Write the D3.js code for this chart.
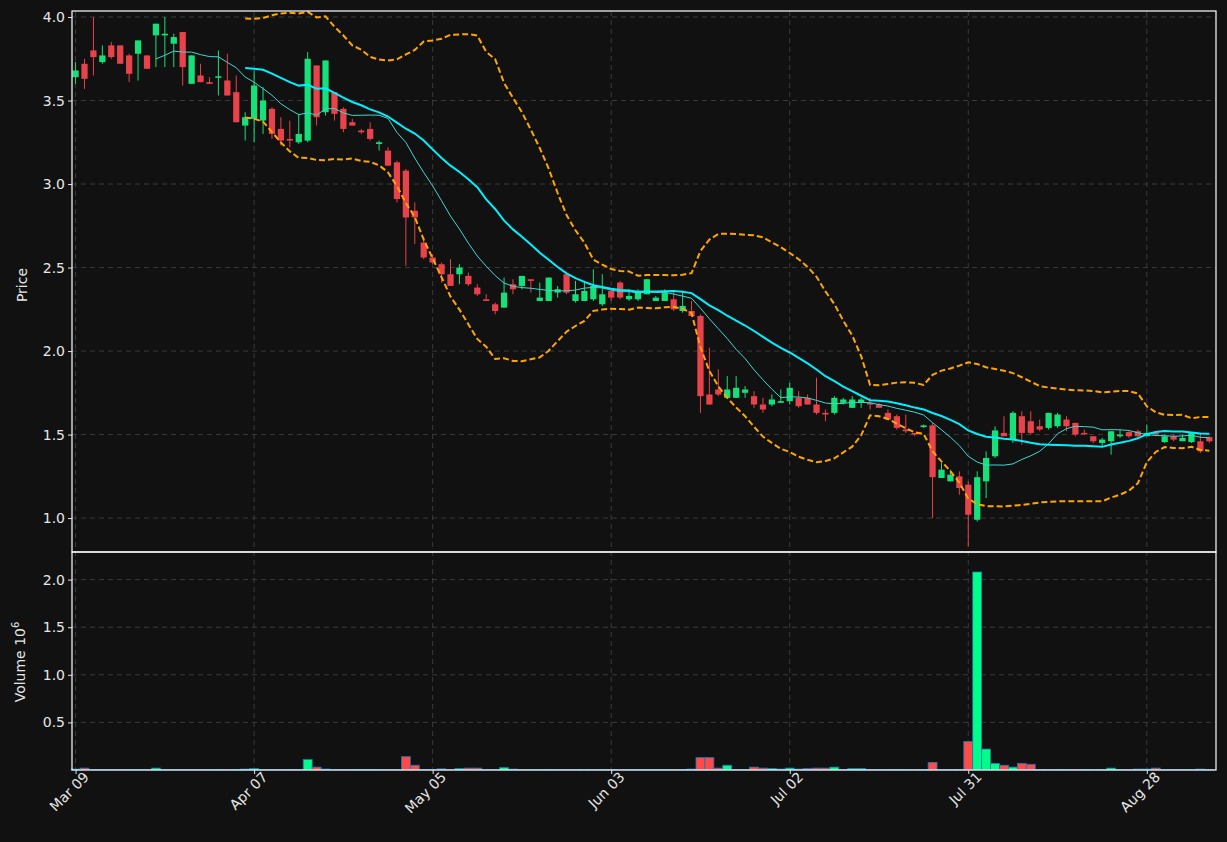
<!DOCTYPE html>
<html>
<head>
<meta charset="utf-8">
<script src="https://cdn.jsdelivr.net/npm/d3@7"></script>
<style>
  body { margin: 0; background: #111111; }
  text { font-family: "DejaVu Sans", sans-serif; }
</style>
</head>
<body>
<div id="chart"></div>
<script>
// bar index ticks, every 20 trading days
const tickIdx = [0, 20, 40, 60, 80, 100, 120];
const tickLabels = ["Mar 09", "Apr 07", "May 05", "Jun 03", "Jul 02", "Jul 31", "Aug 28"];

// OHLC per trading day
const opens = [3.64,3.72,3.80,3.73,3.83,3.83,3.77,3.78,3.77,3.89,3.89,3.84,3.91,3.60,3.65,3.61,3.64,3.62,3.55,3.35,
  3.39,3.38,3.45,3.33,3.27,3.25,3.26,3.71,3.43,3.55,3.45,3.37,3.32,3.33,3.24,3.20,3.13,3.08,2.84,2.65,
  2.56,2.52,2.46,2.46,2.45,2.38,2.31,2.28,2.26,2.40,2.39,2.43,2.30,2.30,2.35,2.46,2.30,2.30,2.31,2.28,
  2.36,2.41,2.31,2.31,2.34,2.30,2.30,2.31,2.24,2.24,2.21,1.74,1.77,1.72,1.72,1.75,1.73,1.68,1.68,1.69,
  1.70,1.72,1.72,1.68,1.63,1.63,1.69,1.66,1.69,1.69,1.68,1.63,1.61,1.53,1.51,1.545,1.555,1.24,1.22,1.25,
  1.20,0.99,1.22,1.37,1.51,1.47,1.61,1.58,1.55,1.54,1.55,1.59,1.57,1.51,1.49,1.45,1.46,1.49,1.515,1.52,
  1.49,1.51,1.455,1.49,1.46,1.455,1.46,1.485];
const highs = [3.73,3.75,4.00,3.83,3.85,3.83,3.78,3.86,3.77,3.96,4.00,3.90,3.91,3.77,3.72,3.64,3.80,3.78,3.65,3.43,
  3.68,3.58,3.46,3.40,3.38,3.42,3.79,3.71,3.74,3.55,3.46,3.39,3.33,3.37,3.26,3.22,3.14,3.09,2.89,2.68,
  2.58,2.53,2.55,2.52,2.47,2.40,2.34,2.29,2.44,2.43,2.45,2.43,2.41,2.44,2.39,2.46,2.42,2.42,2.49,2.46,
  2.37,2.42,2.37,2.37,2.43,2.33,2.37,2.36,2.35,2.30,2.22,2.02,1.89,1.85,1.85,1.79,1.76,1.72,1.74,1.77,
  1.81,1.76,1.74,1.84,1.65,1.73,1.72,1.73,1.72,1.72,1.69,1.65,1.62,1.62,1.51,1.56,1.57,1.33,1.29,1.28,
  1.22,1.28,1.40,1.55,1.61,1.64,1.64,1.64,1.59,1.63,1.63,1.61,1.57,1.53,1.49,1.48,1.52,1.53,1.52,1.53,
  1.56,1.52,1.50,1.50,1.50,1.51,1.51,1.49];
const lows = [3.60,3.57,3.65,3.72,3.75,3.72,3.61,3.62,3.69,3.70,3.70,3.70,3.59,3.60,3.61,3.60,3.53,3.53,3.37,3.26,
  3.25,3.30,3.27,3.23,3.22,3.24,3.25,3.35,3.41,3.38,3.31,3.35,3.30,3.26,3.20,3.11,2.89,2.51,2.64,2.55,
  2.52,2.41,2.39,2.40,2.39,2.33,2.30,2.22,2.26,2.34,2.37,2.35,2.30,2.30,2.32,2.34,2.29,2.30,2.30,2.27,
  2.30,2.31,2.30,2.30,2.34,2.30,2.30,2.24,2.23,2.21,1.63,1.68,1.73,1.72,1.72,1.72,1.66,1.63,1.67,1.69,
  1.68,1.66,1.68,1.62,1.58,1.62,1.68,1.66,1.66,1.65,1.66,1.59,1.53,1.51,1.49,1.54,1.00,1.24,1.22,1.14,
  0.83,0.98,1.12,1.36,1.49,1.45,1.44,1.50,1.52,1.53,1.54,1.52,1.49,1.50,1.45,1.43,1.38,1.48,1.48,1.48,
  1.49,1.49,1.45,1.46,1.46,1.45,1.39,1.45];
const closes = [3.68,3.63,3.76,3.77,3.76,3.72,3.66,3.86,3.69,3.96,3.90,3.88,3.70,3.77,3.61,3.60,3.645,3.53,3.37,3.40,
  3.59,3.50,3.30,3.26,3.26,3.30,3.75,3.40,3.74,3.42,3.33,3.35,3.31,3.27,3.25,3.11,2.91,2.80,2.80,2.56,
  2.53,2.46,2.39,2.50,2.40,2.34,2.30,2.24,2.35,2.37,2.45,2.42,2.32,2.44,2.37,2.35,2.34,2.36,2.39,2.34,
  2.32,2.32,2.33,2.36,2.43,2.32,2.35,2.25,2.27,2.21,1.73,1.68,1.74,1.77,1.78,1.77,1.68,1.65,1.71,1.70,
  1.78,1.67,1.68,1.63,1.62,1.72,1.71,1.71,1.71,1.68,1.66,1.59,1.54,1.52,1.50,1.555,1.245,1.29,1.26,1.18,
  1.02,1.245,1.36,1.525,1.49,1.63,1.51,1.51,1.53,1.63,1.62,1.55,1.50,1.505,1.46,1.47,1.52,1.50,1.49,1.49,
  1.51,1.50,1.49,1.47,1.48,1.51,1.40,1.46];
// volume in millions
const volumes = [0.010,0.020,0.004,0.004,0.004,0.004,0.004,0.004,0.004,0.020,0.004,0.004,0.004,0.004,0.004,0.004,0.006,0.004,0.006,0.010,
  0.015,0.004,0.004,0.004,0.006,0.004,0.110,0.030,0.010,0.004,0.004,0.006,0.006,0.006,0.004,0.004,0.004,0.140,0.050,0.004,
  0.004,0.012,0.004,0.015,0.020,0.020,0.004,0.004,0.025,0.010,0.004,0.004,0.004,0.006,0.004,0.004,0.004,0.006,0.004,0.006,
  0.006,0.004,0.004,0.004,0.004,0.004,0.004,0.004,0.006,0.010,0.130,0.130,0.020,0.050,0.004,0.004,0.030,0.020,0.015,0.010,
  0.020,0.010,0.015,0.020,0.020,0.030,0.006,0.015,0.015,0.006,0.004,0.006,0.006,0.004,0.004,0.006,0.080,0.004,0.004,0.006,
  0.300,2.080,0.220,0.070,0.050,0.030,0.070,0.060,0.006,0.004,0.006,0.004,0.004,0.006,0.004,0.006,0.020,0.004,0.004,0.010,
  0.010,0.020,0.004,0.004,0.004,0.004,0.010,0.004];

const priceTicks = [1.0, 1.5, 2.0, 2.5, 3.0, 3.5, 4.0];
const volTicks = [0.5, 1.0, 1.5, 2.0];

const W = 1227, H = 842;
const left = 72, right = 1216, pTop = 11, pBot = 552, vBot = 770;
const upC = "#16e07a", dnC = "#e8424a", volUp = "#00ff88", volDn = "#ff4a4a";
const gridC = "#3a3a3a", txtC = "#e6e6e6";

const n = closes.length;
const bars = d3.range(n).map(i => ({i, o: opens[i], h: highs[i], l: lows[i], c: closes[i], v: volumes[i]}));

const rolling = (k, f) => d3.range(n).map(i => i < k - 1 ? null : f(closes.slice(i - k + 1, i + 1)));
const ma10 = rolling(10, d3.mean);
const ma20 = rolling(20, d3.mean);
const sd20 = rolling(20, a => Math.sqrt(d3.mean(a.map(v => (v - d3.mean(a)) ** 2))));
const bbUp = ma20.map((m, i) => m == null ? null : m + 2 * sd20[i]);
const bbDn = ma20.map((m, i) => m == null ? null : m - 2 * sd20[i]);

const x = d3.scaleLinear().domain([-0.4, n - 0.25]).range([left, right]);
const y = d3.scaleLinear().domain([0.797, 4.036]).range([pBot, pTop]);
const yv = d3.scaleLinear().domain([0, 2.29]).range([vBot, pBot]);
const bw = (x(1) - x(0)) * 0.7;
const vw = (x(1) - x(0));

const svg = d3.select('#chart').append('svg').attr('width', W).attr('height', H);
svg.append('rect').attr('width', W).attr('height', H).attr('fill', '#111111');

// grids
const grid = svg.append('g').attr('stroke', gridC).attr('stroke-dasharray', '5,4').attr('stroke-width', 1);
tickIdx.forEach(t => grid.append('line').attr('x1', x(t)).attr('x2', x(t)).attr('y1', pTop).attr('y2', vBot));
priceTicks.forEach(t => grid.append('line').attr('x1', left).attr('x2', right).attr('y1', y(t)).attr('y2', y(t)));
volTicks.forEach(t => grid.append('line').attr('x1', left).attr('x2', right).attr('y1', yv(t)).attr('y2', yv(t)));

// candles
const cg = svg.append('g');
cg.selectAll('line').data(bars).enter().append('line')
  .attr('x1', d => x(d.i)).attr('x2', d => x(d.i))
  .attr('y1', d => y(d.h)).attr('y2', d => y(d.l))
  .attr('stroke', d => d.c >= d.o ? upC : dnC).attr('stroke-width', 1);
cg.selectAll('rect').data(bars).enter().append('rect')
  .attr('x', d => x(d.i) - bw / 2).attr('width', bw)
  .attr('y', d => y(Math.max(d.o, d.c)))
  .attr('height', d => Math.max(1.5, Math.abs(y(d.o) - y(d.c))))
  .attr('fill', d => d.c >= d.o ? upC : dnC);

// moving averages and bands
const line = arr => d3.line().defined(d => d != null).x((d, i) => x(i)).y(d => y(d))(arr);
svg.append('path').attr('d', line(ma10)).attr('fill', 'none').attr('stroke', '#40d8d0').attr('stroke-width', 1);
svg.append('path').attr('d', line(ma20)).attr('fill', 'none').attr('stroke', '#00f0ff').attr('stroke-width', 2);
[bbUp, bbDn].forEach(b => svg.append('path').attr('d', line(b)).attr('fill', 'none')
  .attr('stroke', '#ffa500').attr('stroke-width', 2).attr('stroke-dasharray', '6,3'));

// volume
svg.append('g').selectAll('rect').data(bars).enter().append('rect')
  .attr('x', d => x(d.i) - vw / 2).attr('width', vw)
  .attr('y', d => yv(d.v)).attr('height', d => vBot - yv(d.v))
  .attr('fill', d => d.c >= d.o ? volUp : volDn)
  .attr('stroke', '#1f77b4').attr('stroke-width', 0.8);

// frames
[[pTop, pBot], [pBot, vBot]].forEach(([a, b]) => svg.append('rect')
  .attr('x', left).attr('y', a).attr('width', right - left).attr('height', b - a)
  .attr('fill', 'none').attr('stroke', '#ffffff').attr('stroke-width', 1.2));

// axes
const yAx = svg.append('g').attr('transform', `translate(${left},0)`)
  .call(d3.axisLeft(y).tickValues(priceTicks).tickFormat(d3.format('.1f')).tickSize(4));
const vAx = svg.append('g').attr('transform', `translate(${left},0)`)
  .call(d3.axisLeft(yv).tickValues(volTicks).tickFormat(d3.format('.1f')).tickSize(4));
const xAx = svg.append('g').attr('transform', `translate(0,${vBot})`)
  .call(d3.axisBottom(x).tickValues(tickIdx).tickFormat((d, i) => tickLabels[i]).tickSize(4));
[yAx, vAx, xAx].forEach(g => {
  g.select('.domain').remove();
  g.selectAll('line').attr('stroke', txtC);
  g.selectAll('text').attr('fill', txtC).attr('font-size', 14);
});
xAx.selectAll('text').attr('text-anchor', 'end').attr('dx', '0.3em').attr('dy', '0.6em')
  .attr('transform', 'rotate(-45)');

svg.append('text').attr('transform', 'translate(27,285) rotate(-90)').attr('text-anchor', 'middle')
  .attr('fill', txtC).attr('font-size', 14).text('Price');
const vl = svg.append('text').attr('transform', 'translate(25,662) rotate(-90)').attr('text-anchor', 'middle')
  .attr('fill', txtC).attr('font-size', 14);
vl.append('tspan').text('Volume  10');
vl.append('tspan').attr('font-size', 10).attr('dy', '-0.6em').text('6');
</script>
</body>
</html>
